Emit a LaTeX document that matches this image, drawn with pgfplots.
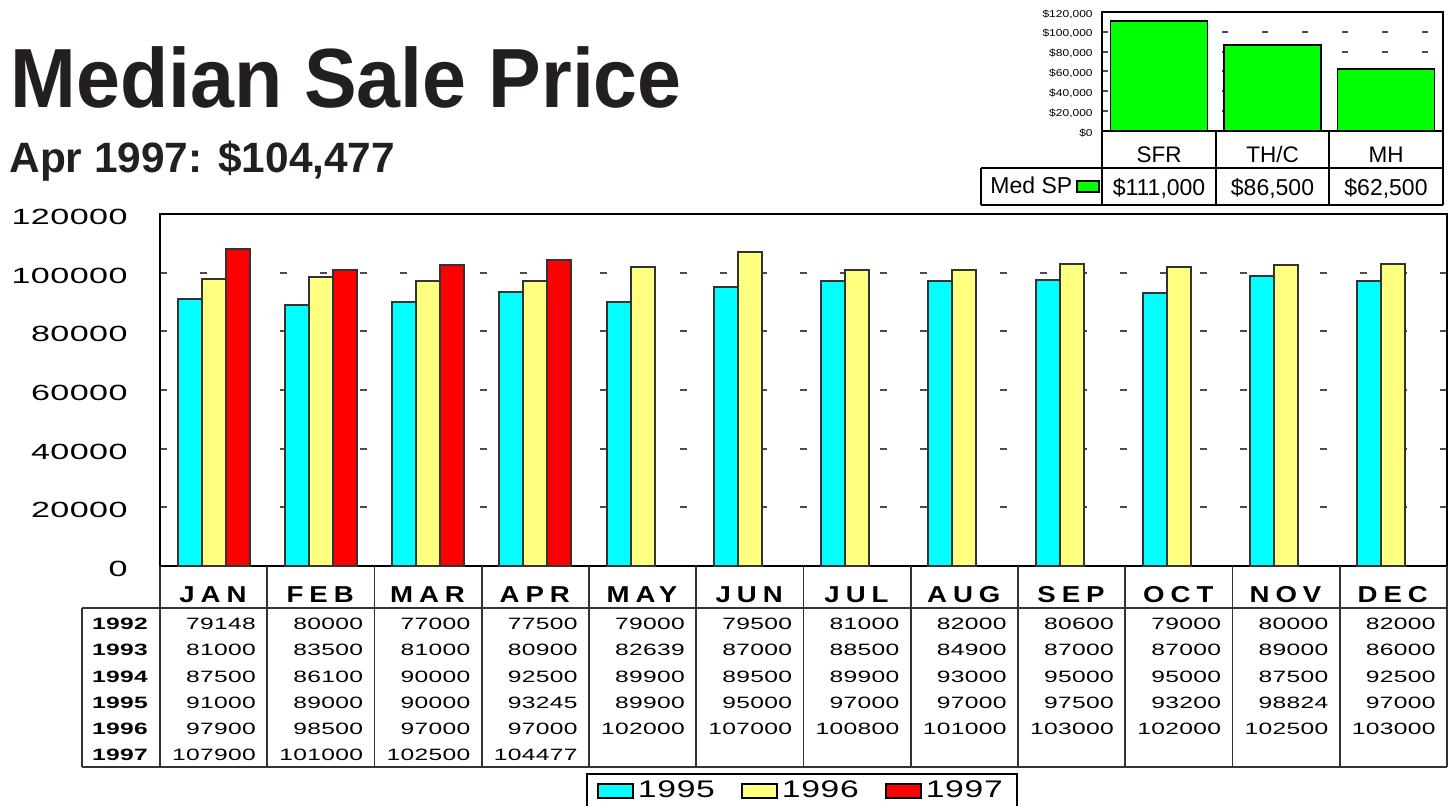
\documentclass[border=0pt]{standalone}
\usepackage{fontspec}
\setmainfont{Liberation Sans}
\usepackage{pgfplots}
\usepackage{pgfplotstable}
\pgfplotsset{compat=1.18}
\newfontfamily\tickfont[FakeStretch=1.55, LetterSpace=2]{Liberation Sans}
\newfontfamily\tabfont[FakeStretch=1.5, LetterSpace=2]{Liberation Sans}
\newfontfamily\monthfont[FakeStretch=1.2, LetterSpace=26]{Liberation Sans}
\newfontfamily\legfont[FakeStretch=1.4, LetterSpace=3]{Liberation Sans}
\newfontfamily\titlefont[FakeStretch=0.94]{Liberation Sans}
\newfontfamily\smallfont[FakeStretch=1.2]{Liberation Sans}
\definecolor{cy}{RGB}{0,255,255}
\definecolor{ye}{RGB}{255,255,128}
\definecolor{rd}{RGB}{255,0,0}
\definecolor{gr}{RGB}{0,255,0}
\definecolor{ink}{RGB}{35,31,32}
\pgfplotstableread{
x y1995 y1996 y1997
0 91000 97900 107900
1 89000 98500 101000
2 90000 97000 102500
3 93245 97000 104477
4 89900 102000 nan
5 95000 107000 nan
6 97000 100800 nan
7 97000 101000 nan
8 97500 103000 nan
9 93200 102000 nan
10 98824 102500 nan
11 97000 103000 nan
}\mainData
\pgfplotstableread{
x y
0 111000
1 86500
2 62500
}\insetData
\begin{document}
\begin{tikzpicture}
\path[use as bounding box] (0,0) rectangle (725pt,-403pt);
% main chart
\begin{axis}[
  at={(80pt,-283pt)}, anchor=south west,
  scale only axis, width=643.5pt, height=176pt,
  xmin=-0.5, xmax=11.5, ymin=0, ymax=120000,
  xtick=\empty,
  ytick={0,20000,40000,60000,80000,100000,120000},
  yticklabels={0,20000,40000,60000,80000,100000,120000},
  scaled y ticks=false,
  major tick length=0pt,
  yticklabel style={font=\tickfont\fontsize{11pt}{12pt}\selectfont, inner sep=0pt, xshift=-16pt, yshift=-1.5pt, anchor=east},
  ymajorgrids,
  major grid style={black!70, line width=1pt, dash pattern=on 3.5pt off 16.5pt},
  axis line style={black, line width=1pt},
  ybar=0pt, bar width=12pt,
  legend columns=3,
  legend image code/.code={\draw[#1, draw=black, line width=1pt] (0pt,-3.5pt) rectangle (17.5pt,3.5pt);},
  legend style={at={(0.331,-0.588)}, anchor=north west, draw=black, line width=1pt,
    font=\legfont\fontsize{12pt}{12pt}\selectfont, inner xsep=5pt, inner ysep=1.5pt,
    /tikz/every even column/.append style={column sep=11pt}},
]
\addplot[fill=cy, draw=black!80, line width=1pt] table[x=x, y=y1995] {\mainData};
\addlegendentry{1995}
\addplot[fill=ye, draw=black!80, line width=1pt] table[x=x, y=y1996] {\mainData};
\addlegendentry{1996}
\addplot[fill=rd, draw=black!80, line width=1pt] table[x=x, y=y1997] {\mainData};
\addlegendentry{1997}
\end{axis}
% inset chart
\begin{axis}[
  at={(551pt,-65.5pt)}, anchor=south west,
  scale only axis, width=170.5pt, height=59.5pt,
  xmin=-0.5, xmax=2.5, ymin=0, ymax=120000,
  xtick=\empty,
  ytick={0,20000,40000,60000,80000,100000,120000},
  yticklabels={{\$0},{\$20,000},{\$40,000},{\$60,000},{\$80,000},{\$100,000},{\$120,000}},
  scaled y ticks=false,
  major tick length=0pt,
  yticklabel style={font=\smallfont\fontsize{5pt}{5pt}\selectfont, inner sep=0pt, xshift=-4.5pt, yshift=-1pt, anchor=east},
  ymajorgrids,
  major grid style={black!70, line width=1pt, dash pattern=on 3pt off 17pt},
  axis line style={black, line width=0.8pt},
  ybar=0pt, bar width=48.5pt,
  legend plot pos=right,
  legend image code/.code={\draw[#1, draw=black, line width=0.8pt] (0pt,-2.6pt) rectangle (11pt,3pt);},
  legend style={at={(-0.34,-0.47)}, anchor=west, draw=none, fill=none,
    font=\fontsize{11.5pt}{11.5pt}\selectfont, inner sep=0pt},
]
\addplot[fill=gr, draw=black, line width=0.8pt] table[x=x, y=y] {\insetData};
\addlegendentry{Med SP}
\end{axis}
\begin{scope}[x=0.5pt, y=-0.5pt]
% titles
\node[anchor=base west, inner sep=0pt, text=ink] at (10,108) {\titlefont\bfseries\fontsize{42pt}{42pt}\selectfont Median Sale Price};
\node[anchor=base west, inner sep=0pt, text=ink] at (9,173) {\bfseries\fontsize{21.2pt}{21.2pt}\selectfont Apr 1997: \$104,477};
% main table lines
\foreach \k in {0,...,12} \draw[line width=0.8pt, black!80] ({160+\k*107.25},566) -- ({160+\k*107.25},767);
\draw[line width=0.8pt, black!80] (82,608) -- (1447,608);
\draw[line width=0.8pt, black!80] (82,767) -- (1447,767);
\draw[line width=0.8pt, black!80] (82,608) -- (82,767);
% months
\foreach \m [count=\i from 0] in {JAN,FEB,MAR,APR,MAY,JUN,JUL,AUG,SEP,OCT,NOV,DEC}
  \node[anchor=base, inner sep=0pt] at ({160+\i*107.25+53},603) {\monthfont\bfseries\fontsize{11.5pt}{11.5pt}\selectfont \m};
% row labels and values
\foreach \yr/\b/\vals in {
  1992/629.5/{79148,80000,77000,77500,79000,79500,81000,82000,80600,79000,80000,82000},
  1993/655.5/{81000,83500,81000,80900,82639,87000,88500,84900,87000,87000,89000,86000},
  1994/682/{87500,86100,90000,92500,89900,89500,89900,93000,95000,95000,87500,92500},
  1995/708/{91000,89000,90000,93245,89900,95000,97000,97000,97500,93200,98824,97000},
  1996/734.5/{97900,98500,97000,97000,102000,107000,100800,101000,103000,102000,102500,103000},
  1997/760.5/{107900,101000,102500,104477}}{
  \node[anchor=base, inner sep=0pt] at (120,\b) {\tabfont\bfseries\fontsize{8.2pt}{9pt}\selectfont \yr};
  \foreach \v [count=\i from 1] in \vals
    \node[anchor=base east, inner sep=0pt] at ({160+\i*107.25-11},\b) {\tabfont\fontsize{8.2pt}{9pt}\selectfont \v};
}
% inset table
\foreach \xx in {1102,1216,1329,1443} \draw[line width=0.8pt, black] (\xx,131) -- (\xx,205);
\draw[line width=0.8pt, black] (981,168) -- (1443,168);
\draw[line width=0.8pt, black] (981,205) -- (1443,205);
\draw[line width=0.8pt, black] (981,168) -- (981,205);
\foreach \c/\t/\v in {1159/SFR/{\$111,000},1272.5/TH\slash C/{\$86,500},1386/MH/{\$62,500}}{
  \node[anchor=base, inner sep=0pt] at (\c,163) {\fontsize{11.25pt}{11.25pt}\selectfont \t};
  \node[anchor=base, inner sep=0pt] at (\c,196) {\fontsize{11.5pt}{11.5pt}\selectfont \v};
}
\end{scope}
\end{tikzpicture}
\end{document}
